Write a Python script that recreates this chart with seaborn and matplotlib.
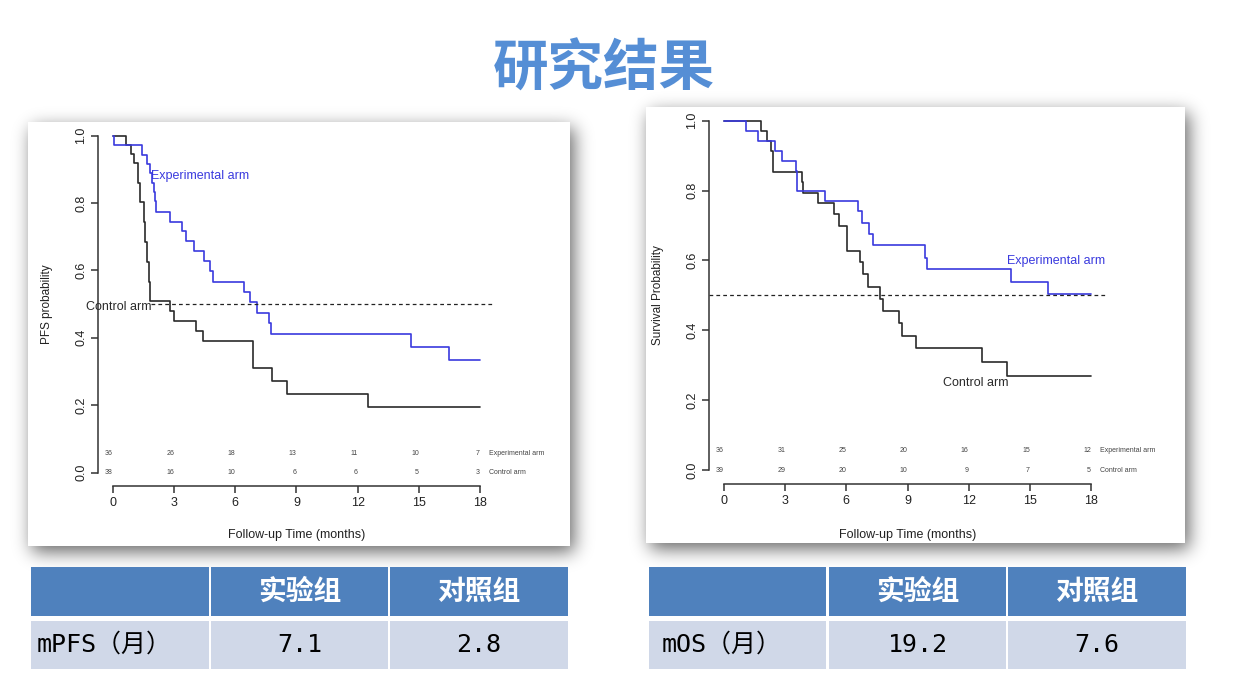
import numpy as np
import matplotlib
matplotlib.use('Agg')
import matplotlib.pyplot as plt
import matplotlib.transforms as mtransforms
from matplotlib.patches import Rectangle
import seaborn as sns

# ---- data ----
# PFS (left panel): months, survival probability
pfs_exp_t = [0, 0.05, 1.42, 1.67, 1.80, 1.91, 1.99, 2.04, 2.12, 2.81, 3.40, 3.60, 4.00, 4.45, 4.77, 4.93, 6.45, 6.70, 7.06, 7.63, 7.75, 14.6, 16.5, 18]
pfs_exp_s = [1.0, 0.972, 0.944, 0.917, 0.889, 0.861, 0.834, 0.806, 0.772, 0.744, 0.716, 0.688, 0.659, 0.627, 0.597, 0.567, 0.537, 0.507, 0.475, 0.443, 0.412, 0.372, 0.333, 0.333]
pfs_ctl_t = [0, 0.65, 0.90, 1.01, 1.21, 1.34, 1.50, 1.58, 1.67, 1.75, 1.83, 2.81, 3.00, 4.07, 4.41, 6.86, 7.78, 8.56, 12.5, 18]
pfs_ctl_s = [1.0, 0.972, 0.947, 0.918, 0.861, 0.804, 0.745, 0.685, 0.626, 0.566, 0.509, 0.479, 0.450, 0.420, 0.390, 0.311, 0.273, 0.233, 0.195, 0.195]

# OS (right panel)
os_exp_t = [0, 1.08, 1.68, 2.50, 2.83, 3.51, 3.60, 4.95, 6.59, 6.78, 7.11, 7.32, 9.86, 9.94, 14.06, 15.87, 18]
os_exp_s = [1.0, 0.971, 0.942, 0.914, 0.886, 0.857, 0.800, 0.771, 0.742, 0.708, 0.676, 0.644, 0.608, 0.575, 0.539, 0.504, 0.504]
os_ctl_t = [0, 1.81, 2.09, 2.30, 2.39, 3.81, 3.89, 4.63, 5.41, 5.64, 6.02, 6.67, 6.83, 7.05, 7.65, 7.78, 8.58, 8.71, 9.40, 12.67, 13.86, 18]
os_ctl_s = [1.0, 0.971, 0.943, 0.914, 0.854, 0.825, 0.794, 0.763, 0.733, 0.699, 0.628, 0.596, 0.561, 0.525, 0.491, 0.456, 0.420, 0.385, 0.349, 0.308, 0.270, 0.270]

risk_times = [0, 3, 6, 9, 12, 15, 18]
pfs_risk_exp = [36, 26, 18, 13, 11, 10, 7]
pfs_risk_ctl = [38, 16, 10, 6, 6, 5, 3]
os_risk_exp = [36, 31, 25, 20, 16, 15, 12]
os_risk_ctl = [39, 29, 20, 10, 9, 7, 5]

arm_names = ['Experimental arm', 'Control arm']
table_header = ['', '实验组', '对照组']
pfs_row = ['mPFS（月）', '7.1', '2.8']
os_row = ['mOS（月）', '19.2', '7.6']
title = '研究结果'

BLUE = '#3a3ade'
DARK = '#2a2a2a'
W, H = 1242, 685

sns.set_style('ticks')
plt.rcParams['font.family'] = ['Liberation Sans', 'Noto Sans CJK SC', 'DejaVu Sans']

fig = plt.figure(figsize=(W / 100, H / 100), dpi=100)

# background layer in pixel coordinates: shadows, cards, title, tables
bg = fig.add_axes([0, 0, 1, 1])
bg.set_zorder(0)
bg.axis('off')

cards = [(28, 122, 570, 546), (646, 107, 1185, 543)]
shadow = np.zeros((H, W))
for x0, y0, x1, y1 in cards:
    shadow[y0 + 6:y1 + 6, x0 + 4:x1 + 4] = 1.0
k = np.exp(-0.5 * (np.arange(-27, 28) / 9.0) ** 2)
k /= k.sum()
shadow = np.apply_along_axis(lambda r: np.convolve(r, k, mode='same'), 1, shadow)
shadow = np.apply_along_axis(lambda c: np.convolve(c, k, mode='same'), 0, shadow)
rgba = np.zeros((H, W, 4))
rgba[..., 3] = shadow * 0.6
bg.imshow(rgba, extent=(0, W, H, 0), interpolation='bilinear', aspect='auto')
for x0, y0, x1, y1 in cards:
    bg.add_patch(Rectangle((x0, y0), x1 - x0, y1 - y0, facecolor='white', edgecolor='none'))

bg.text(604, 70, title, ha='center', va='center', fontsize=40, fontweight='bold',
        color='#558ED5', family=['Noto Sans CJK SC'])

# summary tables
head_y = (567, 616)
row_y = (621, 669)
tables = [
    ([(31, 209), (211, 388), (390, 568)], pfs_row, 37),
    ([(649, 826), (829, 1006), (1008, 1186)], os_row, 662),
]
for cols, row, text_x in tables:
    for i, (c0, c1) in enumerate(cols):
        bg.add_patch(Rectangle((c0, head_y[0]), c1 - c0, head_y[1] - head_y[0],
                               facecolor='#4F81BD', edgecolor='none'))
        bg.add_patch(Rectangle((c0, row_y[0]), c1 - c0, row_y[1] - row_y[0],
                               facecolor='#D0D8E8', edgecolor='none'))
        if table_header[i]:
            bg.text((c0 + c1) / 2, sum(head_y) / 2, table_header[i], ha='center', va='center',
                    fontsize=20, fontweight='bold', color='white', family=['Noto Sans CJK SC'])
        if i == 0:
            bg.text(text_x, sum(row_y) / 2, row[i], ha='left', va='center', fontsize=18,
                    color='black', family=['DejaVu Sans Mono', 'Noto Sans CJK SC'])
        else:
            bg.text((c0 + c1) / 2, sum(row_y) / 2, row[i], ha='center', va='center', fontsize=18,
                    color='black', family=['DejaVu Sans Mono', 'Noto Sans CJK SC'])

bg.set_xlim(0, W)
bg.set_ylim(H, 0)


def km_panel(rect, exp_t, exp_s, ctl_t, ctl_s, risk_exp, risk_ctl, ylabel,
             exp_xy, ctl_xy, dash_from):
    ax = fig.add_axes(rect)
    ax.set_zorder(2)
    ax.patch.set_alpha(0)
    sns.lineplot(x=ctl_t, y=ctl_s, drawstyle='steps-post', color=DARK, lw=1.2,
                 estimator=None, ax=ax)
    sns.lineplot(x=exp_t, y=exp_s, drawstyle='steps-post', color=BLUE, lw=1.2,
                 estimator=None, ax=ax)
    ax.plot([dash_from, 18.72], [0.5, 0.5], ls=(0, (3, 2.5)), color='#222222', lw=0.9)

    ax.text(exp_xy[0], exp_xy[1], arm_names[0], color=BLUE, fontsize=9, ha='left', va='center')
    ax.text(ctl_xy[0], ctl_xy[1], arm_names[1], color=DARK, fontsize=9, ha='left', va='center')

    for t, ne, nc in zip(risk_times, risk_exp, risk_ctl):
        ax.text(t, 0.057, str(ne), fontsize=5, color='#444444', ha='right', va='center')
        ax.text(t, 0.0, str(nc), fontsize=5, color='#444444', ha='right', va='center')
    ax.text(18.45, 0.057, arm_names[0], fontsize=5, color='#444444', ha='left', va='center')
    ax.text(18.45, 0.0, arm_names[1], fontsize=5, color='#444444', ha='left', va='center')

    ax.set_xlim(-0.72, 18.72)
    ax.set_ylim(-0.04, 1.04)
    ax.set_xticks(risk_times)
    ax.set_yticks([0, 0.2, 0.4, 0.6, 0.8, 1.0])
    ax.set_yticklabels(['0.0', '0.2', '0.4', '0.6', '0.8', '1.0'])
    ax.set_xlabel('')
    ax.set_ylabel('')
    for lbl in ax.get_yticklabels():
        lbl.set_rotation(90)
        lbl.set_va('center')
    ax.tick_params(length=5, width=1.1, color='#333333', labelsize=9, labelcolor='#222222', pad=3)
    sns.despine(ax=ax)
    ax.spines['left'].set_bounds(0, 1)
    ax.spines['bottom'].set_bounds(0, 18)
    for s in ('left', 'bottom'):
        ax.spines[s].set_color('#333333')
        ax.spines[s].set_linewidth(1.1)

    xt = mtransforms.blended_transform_factory(ax.transData, ax.transAxes)
    ax.text(9, -0.135, 'Follow-up Time (months)', transform=xt, fontsize=9,
            ha='center', va='center', color='#222222')
    ax.text(-0.129, 0.5, ylabel, transform=ax.transAxes, fontsize=8.5, rotation=90,
            ha='center', va='center', color='#222222')
    return ax


km_panel([0.0791, 0.2905, 0.3192, 0.5311], pfs_exp_t, pfs_exp_s, pfs_ctl_t, pfs_ctl_s,
         pfs_risk_exp, pfs_risk_ctl, 'PFS probability', (1.86, 0.88), (-1.3, 0.49), 1.85)
km_panel([0.5711, 0.2934, 0.3192, 0.5508], os_exp_t, os_exp_s, os_ctl_t, os_ctl_s,
         os_risk_exp, os_risk_ctl, 'Survival Probability', (13.9, 0.598), (10.72, 0.25), -0.72)

fig.savefig('out.png', dpi=100)
